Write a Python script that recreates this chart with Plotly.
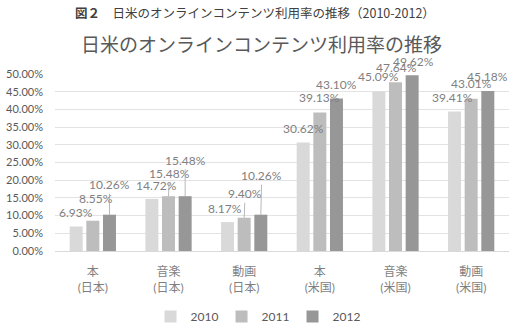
import plotly.graph_objects as go

categories = ["本<br>(日本)", "音楽<br>(日本)", "動画<br>(日本)", "本<br>(米国)", "音楽<br>(米国)", "動画<br>(米国)"]
years = ["2010", "2011", "2012"]
v2010 = [0.0693, 0.1472, 0.0817, 0.3062, 0.4509, 0.3941]
v2011 = [0.0855, 0.1548, 0.0940, 0.3913, 0.4764, 0.4301]
v2012 = [0.1026, 0.1548, 0.1026, 0.4310, 0.4962, 0.4518]
series = [v2010, v2011, v2012]
y_ticks = [0, 0.05, 0.10, 0.15, 0.20, 0.25, 0.30, 0.35, 0.40, 0.45, 0.50]

colors = ["#d9d9d9", "#bdbdbd", "#979797"]
FONT = "Lato, 'Noto Sans CJK JP', sans-serif"
LABEL_C = "#7f7f7f"

# label offsets (pixels) per series per category, and whether a leader line is shown
label_offsets = [
    [(0, -14), (5, -13), (-3, -14), (0, -14), (0, -15), (-2, -14)],
    [(3, -22), (1, -23), (1, -24), (0, -15), (1, -15), (0, -15)],
    [(0, -30), (0, -36), (1, -39), (0, -14), (1, -14), (0, -15)],
]
leader = [
    [False] * 6,
    [False, True, True, False, False, False],
    [True, True, True, False, False, False],
]

xs = list(range(len(categories)))
fig = go.Figure()
for yr, vals, col in zip(years, series, colors):
    fig.add_trace(go.Bar(x=xs, y=vals, name=yr, marker=dict(color=col, line=dict(width=0))))

fig.update_layout(barmode="group", bargap=0.34, bargroupgap=0.22)

bar_slot = (1 - 0.34) / 3
annotations = []
for si, vals in enumerate(series):
    for ci, v in enumerate(vals):
        dx, dy = label_offsets[si][ci]
        xpos = ci + (si - 1) * bar_slot
        annotations.append(dict(
            x=xpos, y=v, xref="x", yref="y",
            text=f"{v*100:.2f}%", showarrow=True,
            ax=dx, ay=dy, axref="pixel", ayref="pixel",
            arrowhead=0, arrowwidth=0.8, standoff=0, startstandoff=0,
            arrowcolor="#a6a6a6" if leader[si][ci] else "rgba(0,0,0,0)",
            font=dict(family=FONT, size=12, color=LABEL_C),
        ))

annotations.append(dict(
    x=0.44, y=1.345, xref="paper", yref="paper", showarrow=False,
    xanchor="center", yanchor="middle",
    text="<b>図２</b>　日米のオンラインコンテンツ利用率の推移（2010-2012）",
    font=dict(family="'Noto Sans CJK JP', sans-serif", size=12.5, color="#404040"),
))
annotations.append(dict(
    x=0.454, y=1.175, xref="paper", yref="paper", showarrow=False,
    xanchor="center", yanchor="middle",
    text="日米のオンラインコンテンツ利用率の推移",
    font=dict(family="'Noto Sans CJK JP', sans-serif", size=19, color="#595959"),
))

fig.update_layout(
    width=513, height=326,
    margin=dict(l=55, r=4, t=74, b=75, autoexpand=False),
    paper_bgcolor="white", plot_bgcolor="white",
    annotations=annotations,
    font=dict(family=FONT, color=LABEL_C),
    xaxis=dict(
        tickmode="array", tickvals=xs, ticktext=categories,
        range=[-0.5, len(categories) - 0.5], automargin=False,
        showgrid=False, showline=True, linecolor="#d9d9d9", linewidth=1,
        ticks="", ticklabelstandoff=10,
        tickfont=dict(family=FONT, size=12, color=LABEL_C),
    ),
    yaxis=dict(
        range=[0, 0.5], tickmode="array", tickvals=y_ticks, automargin=False,
        tickformat=".2%", showgrid=True, gridcolor="#e3e3e3", gridwidth=1,
        zeroline=False, ticks="", ticklen=0, ticklabelstandoff=11,
        tickfont=dict(family=FONT, size=11, color="#595959"),
    ),
    legend=dict(
        orientation="h", x=0.445, xanchor="center", y=-0.37, yanchor="middle",
        font=dict(family=FONT, size=12, color="#595959"),
        itemwidth=30, traceorder="normal", entrywidth=26, entrywidthmode="pixels",
    ),
    showlegend=True,
)

fig.write_html("out.html")
